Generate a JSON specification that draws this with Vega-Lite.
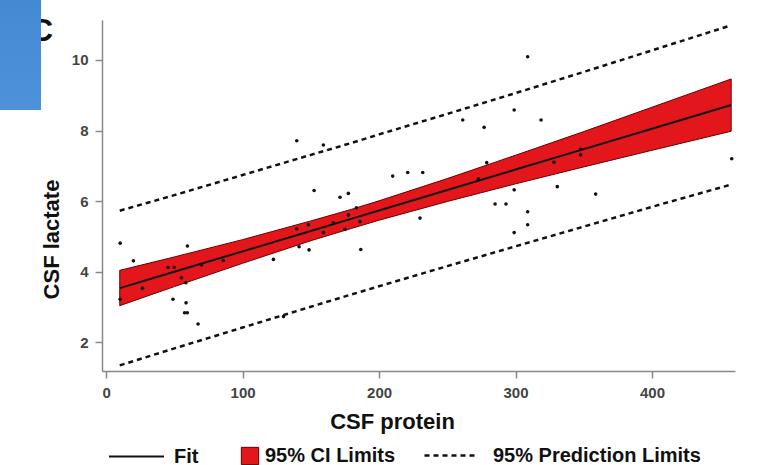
{
  "$schema": "https://vega.github.io/schema/vega-lite/v6.json",
  "width": 633,
  "height": 351,
  "autosize": {"type": "none"},
  "padding": {"left": 102, "top": 20, "right": 24, "bottom": 94},
  "background": "white",
  "title": {
    "text": "C",
    "anchor": "start",
    "frame": "group",
    "orient": "top",
    "fontSize": 32,
    "fontWeight": "bold",
    "font": "Liberation Sans",
    "color": "#111111",
    "baseline": "alphabetic",
    "offset": 0,
    "dx": -72,
    "dy": 73,
    "zindex": 0
  },
  "datasets": {
    "points": [
      {"protein": 10.3, "lactate": 4.81}, {"protein": 59.6, "lactate": 4.73}, {"protein": 20, "lactate": 4.31},
      {"protein": 45.4, "lactate": 4.12}, {"protein": 49.8, "lactate": 4.12}, {"protein": 85.9, "lactate": 4.32},
      {"protein": 55.2, "lactate": 3.83}, {"protein": 58.4, "lactate": 3.69}, {"protein": 26.6, "lactate": 3.53},
      {"protein": 10.3, "lactate": 3.22}, {"protein": 49, "lactate": 3.22}, {"protein": 58.6, "lactate": 3.12},
      {"protein": 57.5, "lactate": 2.84}, {"protein": 59.5, "lactate": 2.84}, {"protein": 67.4, "lactate": 2.52},
      {"protein": 70, "lactate": 4.19}, {"protein": 139.7, "lactate": 7.71}, {"protein": 159.2, "lactate": 7.59},
      {"protein": 152.4, "lactate": 6.3}, {"protein": 171.4, "lactate": 6.11}, {"protein": 177.5, "lactate": 6.22},
      {"protein": 183.4, "lactate": 5.81}, {"protein": 139.7, "lactate": 5.22}, {"protein": 148.2, "lactate": 5.33},
      {"protein": 166.5, "lactate": 5.39}, {"protein": 177.5, "lactate": 5.61}, {"protein": 159.2, "lactate": 5.11},
      {"protein": 175, "lactate": 5.2}, {"protein": 186, "lactate": 5.42}, {"protein": 141.4, "lactate": 4.71},
      {"protein": 148.7, "lactate": 4.62}, {"protein": 186.6, "lactate": 4.63}, {"protein": 122.6, "lactate": 4.35},
      {"protein": 210, "lactate": 6.71}, {"protein": 221, "lactate": 6.81}, {"protein": 232, "lactate": 6.81},
      {"protein": 230, "lactate": 5.52}, {"protein": 278.9, "lactate": 7.09}, {"protein": 285, "lactate": 5.92},
      {"protein": 293, "lactate": 5.92}, {"protein": 272.7, "lactate": 6.63}, {"protein": 308.9, "lactate": 10.09},
      {"protein": 299, "lactate": 8.58}, {"protein": 318.7, "lactate": 8.3}, {"protein": 277, "lactate": 8.09},
      {"protein": 261.3, "lactate": 8.3}, {"protein": 347.7, "lactate": 7.47}, {"protein": 347.7, "lactate": 7.31},
      {"protein": 328.2, "lactate": 7.1}, {"protein": 299, "lactate": 6.32}, {"protein": 330.6, "lactate": 6.41},
      {"protein": 358.7, "lactate": 6.2}, {"protein": 308.9, "lactate": 5.7}, {"protein": 308.9, "lactate": 5.33},
      {"protein": 299, "lactate": 5.11}, {"protein": 458.4, "lactate": 7.2}, {"protein": 130, "lactate": 2.73}
    ],
    "fit": [
      {"protein": 10, "fit": 3.536, "ci_lo": 3.04, "ci_hi": 4.04, "pi_lo": 1.35, "pi_hi": 5.73},
      {"protein": 50, "fit": 4.0, "ci_lo": 3.58, "ci_hi": 4.42, "pi_lo": 1.83, "pi_hi": 6.17},
      {"protein": 100, "fit": 4.578, "ci_lo": 4.24, "ci_hi": 4.91, "pi_lo": 2.42, "pi_hi": 6.74},
      {"protein": 150, "fit": 5.157, "ci_lo": 4.88, "ci_hi": 5.44, "pi_lo": 3.01, "pi_hi": 7.31},
      {"protein": 180, "fit": 5.504, "ci_lo": 5.23, "ci_hi": 5.77, "pi_lo": 3.36, "pi_hi": 7.65},
      {"protein": 200, "fit": 5.736, "ci_lo": 5.46, "ci_hi": 6.01, "pi_lo": 3.59, "pi_hi": 7.89},
      {"protein": 250, "fit": 6.315, "ci_lo": 5.99, "ci_hi": 6.64, "pi_lo": 4.16, "pi_hi": 8.47},
      {"protein": 300, "fit": 6.894, "ci_lo": 6.49, "ci_hi": 7.3, "pi_lo": 4.72, "pi_hi": 9.06},
      {"protein": 350, "fit": 7.473, "ci_lo": 6.97, "ci_hi": 7.97, "pi_lo": 5.28, "pi_hi": 9.66},
      {"protein": 400, "fit": 8.052, "ci_lo": 7.44, "ci_hi": 8.66, "pi_lo": 5.84, "pi_hi": 10.27},
      {"protein": 458, "fit": 8.724, "ci_lo": 7.98, "ci_hi": 9.46, "pi_lo": 6.47, "pi_hi": 10.98}
    ]
  },
  "encoding": {
    "x": {
      "field": "protein",
      "type": "quantitative",
      "scale": {"domain": [-3, 460.8], "nice": false, "zero": false},
      "axis": {
        "title": "CSF protein",
        "values": [0, 100, 200, 300, 400],
        "titleX": 290,
        "titleY": 57,
        "titleBaseline": "alphabetic",
        "titleAnchor": null
      }
    }
  },
  "layer": [
    {
      "data": {"name": "fit"},
      "mark": {"type": "area", "stroke": "#6b0000", "strokeWidth": 1, "fillOpacity": 1},
      "encoding": {
        "y": {
          "field": "ci_lo",
          "type": "quantitative",
          "scale": {"domain": [1.19, 11.13], "nice": false, "zero": false},
          "axis": {
            "title": "CSF lactate",
            "values": [2, 4, 6, 8, 10],
            "titleX": -44,
            "titleY": 219,
            "titleBaseline": "alphabetic",
            "titleAnchor": null
          }
        },
        "y2": {"field": "ci_hi"},
        "fill": {
          "datum": "95% CI Limits",
          "scale": {"range": ["#e3161b"]},
          "legend": {
            "orient": "none",
            "legendX": 138,
            "legendY": 426,
            "title": null,
            "padding": 0,
            "symbolType": "square",
            "symbolSize": 300,
            "symbolStrokeColor": "#5a0000",
            "symbolStrokeWidth": 1,
            "symbolOpacity": 1,
            "labelOffset": 5
          }
        }
      }
    },
    {
      "data": {"name": "fit"},
      "mark": {"type": "line", "strokeWidth": 2.5},
      "encoding": {
        "y": {"field": "pi_hi", "type": "quantitative"},
        "color": {"value": "#111111"},
        "strokeDash": {
          "datum": "95% Prediction Limits",
          "scale": {"range": [[5, 4]]},
          "legend": {
            "orient": "none",
            "legendX": 321,
            "legendY": 408,
            "title": null,
            "padding": 0,
            "symbolType": "stroke",
            "symbolSize": 2704,
            "symbolStrokeColor": "#111111",
            "symbolStrokeWidth": 2.5,
            "labelOffset": 15
          }
        }
      }
    },
    {
      "data": {"name": "fit"},
      "mark": {"type": "line", "strokeWidth": 2.5},
      "encoding": {
        "y": {"field": "pi_lo", "type": "quantitative"},
        "color": {"value": "#111111"},
        "strokeDash": {"datum": "95% Prediction Limits"}
      }
    },
    {
      "data": {"name": "fit"},
      "mark": {"type": "line", "strokeWidth": 2},
      "encoding": {
        "y": {"field": "fit", "type": "quantitative"},
        "stroke": {
          "datum": "Fit",
          "scale": {"range": ["#111111"]},
          "legend": {
            "orient": "none",
            "legendX": 6,
            "legendY": 408,
            "title": null,
            "padding": 0,
            "symbolType": "stroke",
            "symbolSize": 3025,
            "symbolStrokeWidth": 2,
            "labelOffset": 9
          }
        }
      }
    },
    {
      "data": {"name": "points"},
      "mark": {"type": "circle", "size": 13, "opacity": 1},
      "encoding": {
        "y": {"field": "lactate", "type": "quantitative"},
        "color": {"value": "#111111"}
      }
    },
    {
      "data": {"name": "points"},
      "mark": {"type": "circle", "size": 1, "opacity": 0},
      "encoding": {
        "y": {"field": "lactate", "type": "quantitative"},
        "color": {
          "field": "lactate",
          "type": "quantitative",
          "scale": {"range": ["#4d92da", "#448ad3"]},
          "legend": {
            "orient": "none",
            "legendX": -102,
            "legendY": -20,
            "direction": "vertical",
            "gradientLength": 110,
            "gradientThickness": 41,
            "gradientStrokeWidth": 0,
            "labelOpacity": 0,
            "labelFontSize": 1,
            "title": null,
            "padding": 0,
            "zindex": 5
          }
        }
      }
    }
  ],
  "config": {
    "view": {"stroke": null},
    "axis": {
      "grid": false,
      "domainColor": "#888888",
      "domainWidth": 1.5,
      "tickColor": "#888888",
      "tickWidth": 1.5,
      "tickSize": 7,
      "labelFont": "Liberation Sans",
      "labelFontSize": 15,
      "labelFontWeight": "bold",
      "labelColor": "#444444",
      "labelPadding": 7,
      "titleFont": "Liberation Sans",
      "titleFontSize": 22,
      "titleFontWeight": "bold",
      "titleColor": "#111111"
    },
    "legend": {
      "labelFont": "Liberation Sans",
      "labelFontSize": 20,
      "labelFontWeight": "bold",
      "labelColor": "#111111",
      "labelLimit": 400
    }
  }
}
